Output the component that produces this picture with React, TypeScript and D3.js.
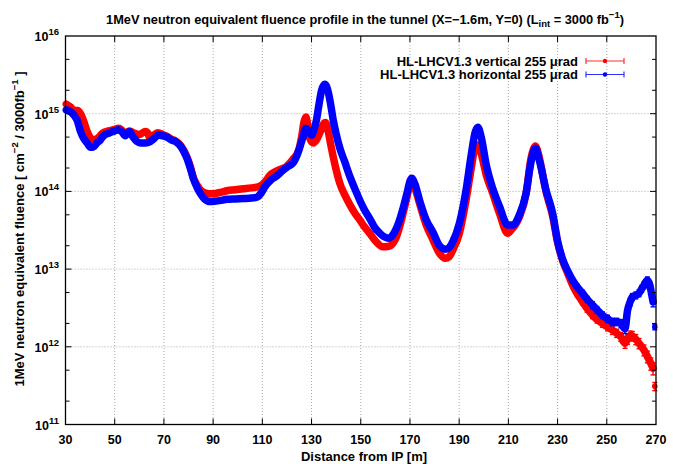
import React from 'react';
import * as d3 from 'd3';

// ---------- data ----------
const xTicks = [30, 50, 70, 90, 110, 130, 150, 170, 190, 210, 230, 250, 270];
const yDecades = [11, 12, 13, 14, 15, 16];
const yMinorMultipliers = [2, 5];

// [distance m, fluence, optional relative error]
const redVertical: number[][] = [
  [30.3, 1.33e15], [32, 1.22e15], [33.5, 1.1e15], [35, 1.1e15], [36.1, 1.0e15], [37.4, 8e14],
  [38.8, 5.9e14], [40.1, 4.9e14], [41.5, 4.6e14], [43, 4.8e14], [45, 5.6e14], [47.5, 6.0e14],
  [50, 6.3e14], [51.6, 6.5e14], [53, 6.1e14], [54.3, 5.6e14], [56, 6.0e14], [58, 5.6e14],
  [60, 5.4e14], [62.5, 5.9e14], [63.5, 5.6e14], [64.3, 4.8e14], [66, 5.3e14], [67.6, 5.7e14],
  [69.5, 5.4e14], [71.2, 5.1e14], [73, 4.7e14], [74.6, 4.5e14], [76.5, 4.0e14], [78, 3.4e14],
  [79.5, 2.7e14], [80.7, 2.1e14], [82, 1.5e14], [83.5, 1.2e14], [85, 1.03e14], [87, 9.5e13],
  [89, 9.3e13], [91, 9.4e13], [93.5, 9.8e13], [95.6, 1.02e14], [99, 1.05e14], [102.3, 1.08e14],
  [105.5, 1.11e14], [108.4, 1.15e14], [110, 1.22e14], [111.5, 1.38e14], [113, 1.6e14],
  [116, 1.85e14], [119.9, 2.1e14], [122.5, 2.6e14], [124, 3.0e14], [125, 3.6e14], [126, 5.1e14],
  [127, 8e14], [127.7, 9.1e14], [128.5, 7e14], [129.3, 4.8e14], [130.7, 4.2e14], [132, 4.6e14],
  [133.5, 5.8e14], [135, 7.5e14], [135.6, 7.7e14], [136.8, 5.9e14], [137.8, 4e14], [138.8, 2.8e14],
  [140, 1.9e14], [141.5, 1.27e14], [143.5, 9e13], [145.6, 6.7e13], [147.5, 5.3e13], [149.6, 4.3e13],
  [151.5, 3.5e13], [153.6, 2.9e13], [156, 2.3e13], [159, 1.94e13], [161, 1.95e13], [163.1, 2.15e13],
  [164.5, 2.6e13], [165.8, 3.5e13], [167.2, 5.2e13], [168.5, 7.7e13], [170, 1.2e14], [170.7, 1.28e14],
  [172, 1.1e14], [173.9, 7e13], [176.6, 3.7e13], [179.3, 2.4e13], [182, 1.6e13], [184.4, 1.38e13],
  [186, 1.45e13], [187.4, 1.76e13], [190.1, 2.9e13], [192.8, 7.7e13], [194.8, 1.9e14], [196.6, 3.76e14],
  [197.6, 3.96e14], [198.9, 3.1e14], [201, 1.63e14], [203.6, 9.5e13], [206.4, 5.2e13], [209.7, 2.9e13],
  [211.5, 3.3e13], [212.8, 3.7e13], [214.5, 4.7e13], [217.2, 9.3e13], [219.2, 2.67e14], [220.2, 3.5e14],
  [221, 3.84e14], [221.8, 3.4e14], [222.6, 2.7e14], [225.3, 9.9e13], [228, 4.8e13], [230, 2.2e13],
  [232, 1.3e13, 0.06], [234, 9e12, 0.07], [236.1, 6.2e12, 0.08], [238, 4.8e12, 0.08], [240.1, 3.8e12, 0.09],
  [242, 3.1e12, 0.1], [244.2, 2.56e12, 0.1], [246, 2.25e12, 0.1], [248.2, 2.0e12, 0.11], [250.3, 1.8e12, 0.11],
  [252.3, 1.64e12, 0.12], [254, 1.5e12, 0.12], [255.7, 1.35e12, 0.13], [257.4, 1.11e12, 0.14],
  [258.4, 1.25e12, 0.14], [259.5, 1.4e12, 0.14], [260.4, 1.38e12, 0.14], [261.8, 1.25e12, 0.15],
  [263.1, 1.11e12, 0.15], [265.1, 9.1e11, 0.16], [266.5, 7.5e11, 0.17], [267.9, 6.1e11, 0.18],
  [268.8, 5.3e11, 0.18],
];

const blueHorizontal: number[][] = [
  [30.3, 1.12e15], [32, 1.06e15], [33.4, 9.6e14], [34.7, 8.3e14], [36.1, 5.9e14], [37.4, 4.8e14],
  [38.8, 4.2e14], [40.1, 3.7e14], [41.4, 3.75e14], [42.8, 4.2e14], [44.2, 4.6e14], [45.5, 5.2e14],
  [47.5, 5.6e14], [50, 6.0e14], [51.6, 6.2e14], [53, 5.8e14], [54.3, 5.2e14], [55.9, 5.9e14],
  [57.5, 5.0e14], [59, 4.4e14], [60.4, 4.2e14], [62.5, 4.2e14], [64.5, 4.4e14], [66, 4.8e14],
  [67.8, 5.3e14], [69.5, 5.2e14], [71.2, 5.0e14], [73, 4.6e14], [74.6, 4.4e14], [76.5, 3.9e14],
  [78, 3.3e14], [79.5, 2.6e14], [80.7, 2.0e14], [82, 1.45e14], [83.5, 1.12e14], [84.7, 9.5e13],
  [86.5, 8e13], [88.8, 7.4e13], [91, 7.5e13], [93.5, 7.7e13], [95.6, 7.9e13], [99, 8.0e13],
  [102.3, 8.1e13], [105.5, 8.2e13], [107.7, 8.4e13], [109.5, 9.5e13], [111.1, 1.15e14], [113.5, 1.4e14],
  [115.8, 1.58e14], [118.5, 1.88e14], [120.5, 2.1e14], [122.6, 2.35e14], [123.9, 2.8e14], [125, 3.5e14],
  [126.5, 5.0e14], [127.7, 6.5e14], [128.8, 6.0e14], [130, 5.3e14], [131, 6.2e14], [132, 8.3e14],
  [133, 1.3e15], [134.1, 2.0e15], [135.4, 2.4e15], [136.8, 1.9e15], [137.8, 1.3e15], [138.8, 8.3e14],
  [140, 5.5e14], [141.5, 3.6e14], [143.5, 2.4e14], [145.6, 1.55e14], [147.5, 1.1e14], [149.6, 7.7e13],
  [151.5, 5.8e13], [153.6, 4.5e13], [155.5, 3.5e13], [157.7, 2.9e13], [159.5, 2.6e13], [161.1, 2.5e13],
  [162.8, 2.7e13], [164.5, 3.35e13], [166, 4.5e13], [167.4, 6.4e13], [168.8, 9.5e13], [170.1, 1.38e14],
  [170.7, 1.48e14], [172, 1.25e14], [173.9, 7.7e13], [176.6, 4.3e13], [179.3, 3.0e13], [182, 2.0e13],
  [184.4, 1.8e13], [186, 1.9e13], [187.4, 2.25e13], [190.1, 3.9e13], [192.8, 1.04e14], [194.8, 2.8e14],
  [196.6, 5.9e14], [197.6, 6.7e14], [198.9, 5.1e14], [201, 2.2e14], [203.6, 1.1e14], [206.4, 6.4e13],
  [209.7, 3.7e13], [211.8, 3.7e13], [214.5, 5.0e13], [217.2, 9.5e13], [219.2, 2.4e14], [221, 3.6e14],
  [222.6, 2.5e14], [225.3, 1.04e14], [228, 5.2e13], [230, 2.3e13],
  [232, 1.35e13, 0.06], [234, 9.6e12, 0.07], [236.1, 7.2e12, 0.08], [238, 5.9e12, 0.08], [240.1, 4.9e12, 0.09],
  [242, 4.1e12, 0.09], [244.2, 3.45e12, 0.1], [246, 3.0e12, 0.1], [248.2, 2.56e12, 0.1], [250.3, 2.3e12, 0.11],
  [252.3, 2.1e12, 0.11], [254, 2.1e12, 0.11], [255.7, 2.0e12, 0.12], [257.4, 1.7e12, 0.13],
  [258.4, 2.9e12, 0.12], [259.5, 3.8e12, 0.11], [260.4, 4.4e12, 0.1], [261.8, 4.6e12, 0.1],
  [263.1, 4.9e12, 0.1], [264.2, 5.6e12, 0.1], [265.1, 6.2e12, 0.1], [266.5, 7.2e12, 0.1],
  [267.5, 6.2e12, 0.11], [267.9, 5.4e12, 0.12], [268.8, 3.8e12, 0.14],
];

// last bin, plotted apart from the curves
const redEdge: number[][] = [[269.5, 3.1e11, 0.12]];
const blueEdge: number[][] = [[269.5, 1.8e12, 0.08]];

const seriesNames = ['HL-LHCV1.3 vertical 255 μrad', 'HL-LHCV1.3 horizontal 255 μrad'];

// ---------- layout ----------
const W = 673, H = 464;
const L = 65.5, R = 656, T = 36, B = 424.5;
const FONT = '"Liberation Sans", Arial, Helvetica, sans-serif';

export default function App() {
  const x = d3.scaleLinear().domain([30, 270]).range([L, R]);
  const y = d3.scaleLog().domain([1e11, 1e16]).range([B, T]);
  const line = d3.line<number[]>().x(d => x(d[0])).y(d => y(d[1])).curve(d3.curveMonotoneX);

  const minorVals: number[] = [];
  yDecades.slice(0, -1).forEach(p => yMinorMultipliers.forEach(m => minorVals.push(m * Math.pow(10, p))));

  const series = [
    { data: redVertical, edge: redEdge, color: '#ff0000', legend: '#ff3030' },
    { data: blueHorizontal, edge: blueEdge, color: '#0000ff', legend: '#3030ff' },
  ];

  const errBars = (pts: number[][], color: string, key: string) =>
    pts.filter(d => d.length > 2).map((d, i) => {
      const cx = x(d[0]);
      const y1 = y(d[1] * (1 + d[2]));
      const y2 = y(d[1] * (1 - d[2]));
      return (
        <g key={key + i} stroke={color} strokeWidth={1.4}>
          <line x1={cx} x2={cx} y1={y1} y2={y2} />
          <line x1={cx - 2.5} x2={cx + 2.5} y1={y1} y2={y1} />
          <line x1={cx - 2.5} x2={cx + 2.5} y1={y2} y2={y2} />
          <circle cx={cx} cy={y(d[1])} r={2.8} fill={color} stroke="none" />
        </g>
      );
    });

  return (
    <svg width={W} height={H} style={{ position: 'absolute', left: 0, top: 0, background: '#fff' }}
      fontFamily={FONT} fontWeight="bold">
      <rect x={0} y={0} width={W} height={H} fill="#fff" />
      {/* grid */}
      <g stroke="#a8a8a8" strokeWidth={1} strokeDasharray="1,2">
        {xTicks.slice(1, -1).map(t => (
          <line key={'gx' + t} x1={x(t)} x2={x(t)} y1={T} y2={B} />
        ))}
        {yDecades.slice(1, -1).map(p => (
          <line key={'gy' + p} x1={L} x2={R} y1={y(Math.pow(10, p))} y2={y(Math.pow(10, p))} />
        ))}
      </g>

      {/* data */}
      {series.map((s, k) => (
        <g key={'s' + k}>
          <path d={line(s.data) || ''} fill="none" stroke={s.color} strokeWidth={7.5}
            strokeLinejoin="round" strokeLinecap="round" />
          {errBars(s.data, s.color, 'e' + k)}
          {errBars(s.edge, s.color, 'x' + k)}
        </g>
      ))}

      {/* ticks */}
      <g stroke="#000" strokeWidth={1}>
        {xTicks.slice(1, -1).map(t => (
          <g key={'tx' + t}>
            <line x1={x(t)} x2={x(t)} y1={B} y2={B - 6} />
            <line x1={x(t)} x2={x(t)} y1={T} y2={T + 6} />
          </g>
        ))}
        {yDecades.slice(1, -1).map(p => (
          <g key={'ty' + p}>
            <line x1={L} x2={L + 6} y1={y(Math.pow(10, p))} y2={y(Math.pow(10, p))} />
            <line x1={R} x2={R - 6} y1={y(Math.pow(10, p))} y2={y(Math.pow(10, p))} />
          </g>
        ))}
        {minorVals.map((v, i) => (
          <g key={'tm' + i}>
            <line x1={L} x2={L + 4} y1={y(v)} y2={y(v)} />
            <line x1={R} x2={R - 4} y1={y(v)} y2={y(v)} />
          </g>
        ))}
      </g>
      {/* frame */}
      <rect x={L} y={T} width={R - L} height={B - T} fill="none" stroke="#000" strokeWidth={1.3} />

      {/* x tick labels */}
      {xTicks.map(t => (
        <text key={'lx' + t} x={x(t)} y={B + 19} textAnchor="middle" fontSize={12.5}>{t}</text>
      ))}
      {/* y tick labels */}
      {yDecades.map(p => (
        <text key={'ly' + p} x={59} y={y(Math.pow(10, p)) + 5} textAnchor="end" fontSize={12.5}>
          10<tspan fontSize={9.5} dy={-6}>{p}</tspan>
        </text>
      ))}

      {/* title */}
      <text x={365} y={24} textAnchor="middle" fontSize={12.8}>
        1MeV neutron equivalent fluence profile in the tunnel (X=−1.6m, Y=0) (L
        <tspan fontSize={9.5} dy={3}>int</tspan>
        <tspan dy={-3}> = 3000 fb</tspan>
        <tspan fontSize={9.5} dy={-6}>−1</tspan>
        <tspan dy={6}>)</tspan>
      </text>

      {/* axis titles */}
      <text x={364} y={461} textAnchor="middle" fontSize={13}>Distance from IP [m]</text>
      <text transform={`translate(24,229) rotate(-90)`} textAnchor="middle" fontSize={13}>
        1MeV neutron equivalent fluence [ cm
        <tspan fontSize={9.5} dy={-6}>−2</tspan>
        <tspan dy={6}> / 3000fb</tspan>
        <tspan fontSize={9.5} dy={-6}>−1</tspan>
        <tspan dy={6}> ]</tspan>
      </text>

      {/* legend */}
      {series.map((s, k) => {
        const ly = 61 + k * 13.5;
        return (
          <g key={'lg' + k}>
            <text x={578} y={ly + 4.5} textAnchor="end" fontSize={13}>{seriesNames[k]}</text>
            <g stroke={s.legend} strokeWidth={1.2}>
              <line x1={586} x2={624} y1={ly} y2={ly} />
              <line x1={586} x2={586} y1={ly - 3} y2={ly + 3} />
              <line x1={624} x2={624} y1={ly - 3} y2={ly + 3} />
            </g>
            <circle cx={605} cy={ly} r={2.2} fill={s.color} />
          </g>
        );
      })}
    </svg>
  );
}
